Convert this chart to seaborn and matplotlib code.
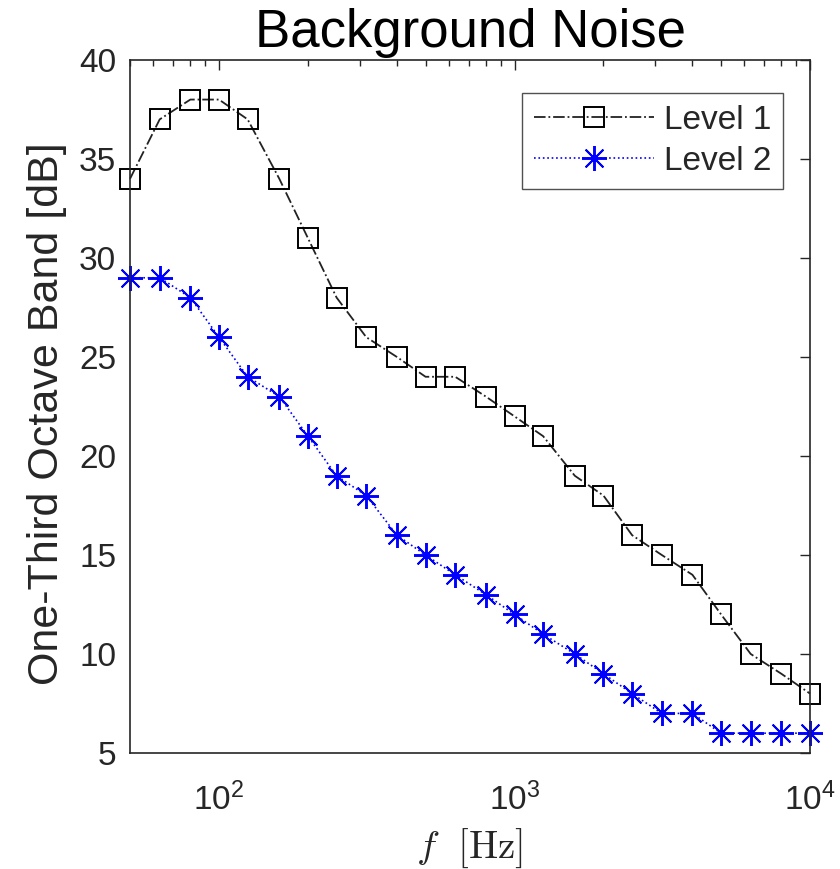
import numpy as np
import pandas as pd
import matplotlib
matplotlib.use('Agg')
import matplotlib.pyplot as plt
import seaborn as sns

# One-third octave band centre frequencies [Hz]
freq = [50, 63, 80, 100, 125, 160, 200, 250, 315, 400, 500, 630,
        800, 1000, 1250, 1600, 2000, 2500, 3150, 4000, 5000, 6300, 8000, 10000]
level1 = [34, 37, 38, 38, 37, 34, 31, 28, 26, 25, 24, 24,
          23, 22, 21, 19, 18, 16, 15, 14, 12, 10, 9, 8]
level2 = [29, 29, 28, 26, 24, 23, 21, 19, 18, 16, 15, 14,
          13, 12, 11, 10, 9, 8, 7, 7, 6, 6, 6, 6]
y_ticks = [5, 10, 15, 20, 25, 30, 35, 40]

sns.set_style('white')
plt.rcParams['font.family'] = ['Liberation Sans', 'DejaVu Sans']
plt.rcParams['mathtext.fontset'] = 'cm'

df = pd.DataFrame({'f': freq, 'Level 1': level1, 'Level 2': level2})

fig = plt.figure(figsize=(8.4, 8.69), dpi=100)
ax = fig.add_axes([0.1548, 0.1335, 0.8095, 0.7975])

sns.lineplot(data=df, x='f', y='Level 1', ax=ax, color='#222222',
             linestyle='-.', linewidth=1.3, marker='s', markersize=14.5,
             markerfacecolor='none', markeredgecolor='black',
             markeredgewidth=1.4, label='Level 1', clip_on=False)
sns.lineplot(data=df, x='f', y='Level 2', ax=ax, color='blue',
             linestyle=':', linewidth=1.2, marker=(8, 2, 0), markersize=18,
             markeredgecolor='blue', markeredgewidth=1.4, label='Level 2',
             clip_on=False)

ax.set_xscale('log')
ax.set_xlim(50, 10000)
ax.set_ylim(5, 40)
ax.set_yticks(y_ticks)
ax.tick_params(axis='both', which='both', direction='in', top=True, right=True,
               labelsize=24, colors='#262626', width=1.0)
ax.tick_params(axis='both', which='major', length=7)
ax.tick_params(axis='x', which='minor', length=4)
ax.tick_params(axis='x', which='major', pad=21)
ax.tick_params(axis='y', which='major', pad=10)
for sp in ax.spines.values():
    sp.set_color('#262626')
    sp.set_linewidth(1.2)

ax.set_title('Background Noise', fontsize=38, color='black', pad=9)
ax.set_xlabel(r'$f\ \ [\mathrm{Hz}]$', fontsize=28, color='#262626', labelpad=7)
ax.set_ylabel('One-Third Octave Band [dB]', fontsize=31, color='#262626',
              labelpad=8)
ax.yaxis.set_label_coords(-0.093, 0.49)

leg = ax.legend(loc='upper right', fontsize=24, frameon=True, fancybox=False,
                edgecolor='#262626', handlelength=3.6, borderpad=0.35,
                labelspacing=0.3, handletextpad=0.3, borderaxespad=0,
                bbox_to_anchor=(0.960, 0.952))
leg.get_frame().set_linewidth(1.0)

plt.savefig('out.png', dpi=100)
